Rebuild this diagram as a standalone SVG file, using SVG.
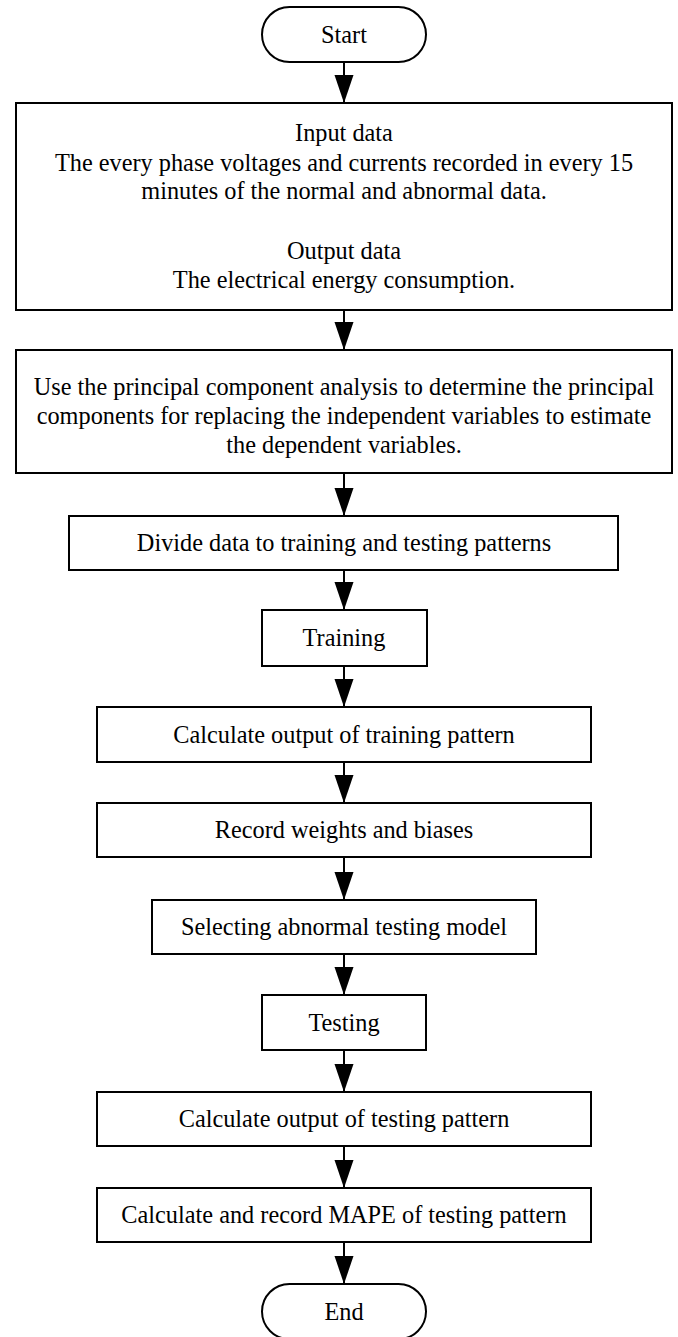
<svg xmlns="http://www.w3.org/2000/svg" width="678" height="1337" viewBox="0 0 678 1337">
<style>
.box{fill:#fff;stroke:#000;stroke-width:2}
.t{font-family:"Liberation Serif","Times New Roman",serif;font-size:24.3px;fill:#000;text-anchor:middle}
.c{stroke:#000;stroke-width:2;fill:none}
</style>
<defs>
<marker id="ah" markerUnits="userSpaceOnUse" markerWidth="28" markerHeight="20" refX="28" refY="9.5" orient="auto">
<path d="M0,0 L28,9.5 L0,19 z" fill="#000"/>
</marker>
</defs>
<rect width="678" height="1337" fill="#fff"/>
<g id="connectors">
<line class="c" x1="344" y1="62" x2="344" y2="103" marker-end="url(#ah)"/>
<line class="c" x1="344" y1="310" x2="344" y2="350" marker-end="url(#ah)"/>
<line class="c" x1="344" y1="473" x2="344" y2="516" marker-end="url(#ah)"/>
<line class="c" x1="344" y1="570" x2="344" y2="610" marker-end="url(#ah)"/>
<line class="c" x1="344" y1="666" x2="344" y2="707" marker-end="url(#ah)"/>
<line class="c" x1="344" y1="762" x2="344" y2="803" marker-end="url(#ah)"/>
<line class="c" x1="344" y1="857" x2="344" y2="900" marker-end="url(#ah)"/>
<line class="c" x1="344" y1="954" x2="344" y2="995" marker-end="url(#ah)"/>
<line class="c" x1="344" y1="1050" x2="344" y2="1092" marker-end="url(#ah)"/>
<line class="c" x1="344" y1="1146" x2="344" y2="1188" marker-end="url(#ah)"/>
<line class="c" x1="344" y1="1242" x2="344" y2="1284" marker-end="url(#ah)"/>
</g>
<g id="start">
<rect class="box" x="262" y="7" width="164" height="55" rx="27.5" ry="27.5"/>
<text class="t" x="344" y="43">Start</text>
</g>
<g id="input">
<rect class="box" x="16" y="103" width="656" height="207"/>
<text class="t" x="344" y="141">Input data</text>
<text class="t" x="344" y="171">The every phase voltages and currents recorded in every 15</text>
<text class="t" x="344" y="199">minutes of the normal and abnormal data.</text>
<text class="t" x="344" y="259">Output data</text>
<text class="t" x="344" y="288">The electrical energy consumption.</text>
</g>
<g id="pca">
<rect class="box" x="16" y="350" width="656" height="123"/>
<text class="t" x="344" y="395">Use the principal component analysis to determine the principal</text>
<text class="t" x="344" y="424">components for replacing the independent variables to estimate</text>
<text class="t" x="344" y="453">the dependent variables.</text>
</g>
<g id="divide">
<rect class="box" x="69" y="516" width="549" height="54"/>
<text class="t" x="344" y="551">Divide data to training and testing patterns</text>
</g>
<g id="training">
<rect class="box" x="262" y="610" width="165" height="56"/>
<text class="t" x="344" y="646">Training</text>
</g>
<g id="calc-train">
<rect class="box" x="97" y="707" width="494" height="55"/>
<text class="t" x="344" y="743">Calculate output of training pattern</text>
</g>
<g id="record">
<rect class="box" x="97" y="803" width="494" height="54"/>
<text class="t" x="344" y="838">Record weights and biases</text>
</g>
<g id="select">
<rect class="box" x="152" y="900" width="384" height="54"/>
<text class="t" x="344" y="935">Selecting abnormal testing model</text>
</g>
<g id="testing">
<rect class="box" x="262" y="995" width="164" height="55"/>
<text class="t" x="344" y="1031">Testing</text>
</g>
<g id="calc-test">
<rect class="box" x="97" y="1092" width="494" height="54"/>
<text class="t" x="344" y="1127">Calculate output of testing pattern</text>
</g>
<g id="mape">
<rect class="box" x="97" y="1188" width="494" height="54"/>
<text class="t" x="344" y="1223">Calculate and record MAPE of testing pattern</text>
</g>
<g id="end">
<rect class="box" x="262" y="1284" width="164" height="55" rx="27.5" ry="27.5"/>
<text class="t" x="344" y="1320">End</text>
</g>
</svg>
